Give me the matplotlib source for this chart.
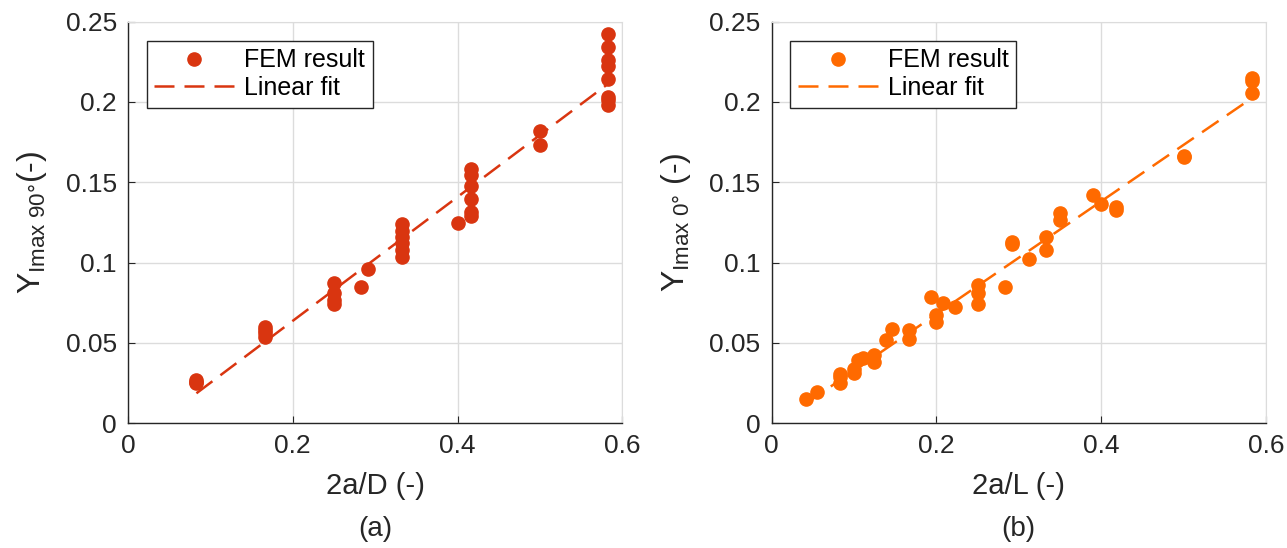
import matplotlib
matplotlib.use("Agg")
import matplotlib.pyplot as plt

plt.rcParams["font.family"] = ["Liberation Sans", "DejaVu Sans"]
plt.rcParams["mathtext.fontset"] = "custom"
plt.rcParams["mathtext.rm"] = "Liberation Sans"
plt.rcParams["mathtext.it"] = "Liberation Sans:italic"

# panel (a): 2a/D vs Y_Imax 90deg
a_x = [0.083, 0.083, 0.083,
       0.166, 0.166, 0.166, 0.166,
       0.25, 0.25, 0.25, 0.25,
       0.283, 0.291,
       0.333, 0.333, 0.333, 0.333, 0.333, 0.333,
       0.40,
       0.416, 0.416, 0.416, 0.416, 0.416, 0.416,
       0.50, 0.50,
       0.583, 0.583, 0.583, 0.583, 0.583, 0.583, 0.583, 0.583]
a_y = [0.027, 0.025, 0.026,
       0.060, 0.058, 0.056, 0.054,
       0.0875, 0.081, 0.077, 0.0742,
       0.085, 0.0958,
       0.124, 0.120, 0.116, 0.112, 0.108, 0.1037,
       0.1248,
       0.158, 0.1544, 0.148, 0.1395, 0.1316, 0.129,
       0.182, 0.173,
       0.242, 0.234, 0.226, 0.2224, 0.214, 0.203, 0.201, 0.198]
a_fit_x = [0.083, 0.583]
a_fit_y = [0.0187, 0.2114]

# panel (b): 2a/L vs Y_Imax 0deg
b_x = [0.0417, 0.0555, 0.083, 0.083, 0.083, 0.1004, 0.1004, 0.105, 0.111,
       0.1247, 0.1247, 0.139, 0.1466, 0.1668, 0.1668, 0.194, 0.1996, 0.1996,
       0.2085, 0.222, 0.25, 0.25, 0.25, 0.2834, 0.292, 0.292, 0.3126,
       0.333, 0.333, 0.35, 0.35, 0.3895, 0.3996, 0.418, 0.418, 0.50, 0.50,
       0.583, 0.583, 0.583]
b_y = [0.0149, 0.0197, 0.031, 0.0249, 0.029, 0.0315, 0.034, 0.0394, 0.0404,
       0.0425, 0.0384, 0.0518, 0.059, 0.058, 0.0522, 0.0784, 0.0674, 0.0632,
       0.0746, 0.0726, 0.086, 0.0809, 0.0742, 0.085, 0.1126, 0.1115, 0.102,
       0.116, 0.1078, 0.1306, 0.1264, 0.142, 0.1364, 0.1348, 0.133, 0.1665, 0.166,
       0.2152, 0.2131, 0.2057]
b_fit_x = [0.0417, 0.579]
b_fit_y = [0.0124, 0.201]

panels = [
    (a_x, a_y, a_fit_x, a_fit_y, "#D93510",
     r"Y$_{\mathrm{Imax\ 90°}}$(-)", "2a/D (-)", "(a)"),
    (b_x, b_y, b_fit_x, b_fit_y, "#FF6A00",
     r"Y$_{\mathrm{Imax\ 0°}}$ (-)", "2a/L (-)", "(b)"),
]

fig = plt.figure(figsize=(12.87, 5.48), dpi=100)
lefts = [0.0995, 0.5996]
width = 0.384
bottom = 0.2275
height = 0.733

for left, (x, y, fx, fy, color, ylab, xlab, tag) in zip(lefts, panels):
    ax = fig.add_axes([left, bottom, width, height])
    ax.plot(x, y, "o", color=color, markersize=9.5, label="FEM result")
    ax.plot(fx, fy, "--", color=color, linewidth=1.8, dashes=(8, 4),
            label="Linear fit")
    ax.set_xlim(0, 0.6)
    ax.set_ylim(0, 0.25)
    ax.set_xticks([0, 0.2, 0.4, 0.6])
    ax.set_xticklabels(["0", "0.2", "0.4", "0.6"])
    ax.set_yticks([0, 0.05, 0.1, 0.15, 0.2, 0.25])
    ax.set_yticklabels(["0", "0.05", "0.1", "0.15", "0.2", "0.25"])
    ax.grid(True, color="#DCDCDC", linewidth=1.0)
    ax.set_axisbelow(True)
    for side in ["top", "right"]:
        ax.spines[side].set_color("#DCDCDC")
    for side in ["left", "bottom"]:
        ax.spines[side].set_color("#262626")
        ax.spines[side].set_linewidth(1.0)
    ax.tick_params(direction="in", length=5, labelsize=19, colors="#262626",
                   top=False, right=False, pad=8)
    ax.set_xlabel(xlab, fontsize=21, color="#262626", labelpad=10)
    ax.set_ylabel(ylab, fontsize=23, color="#262626", labelpad=12)
    leg = ax.legend(loc="upper left", bbox_to_anchor=(0.038, 0.952),
                    borderaxespad=0, fontsize=18, frameon=True, fancybox=False,
                    edgecolor="#262626", handlelength=3.2, handletextpad=0.4,
                    borderpad=0.3, labelspacing=0.15)
    leg.get_frame().set_linewidth(1.0)
    leg.get_frame().set_alpha(1)
    fig.text(left + width / 2, 0.035, tag, ha="center", va="center",
             fontsize=20, color="#262626")

fig.savefig("out.png", dpi=100)
